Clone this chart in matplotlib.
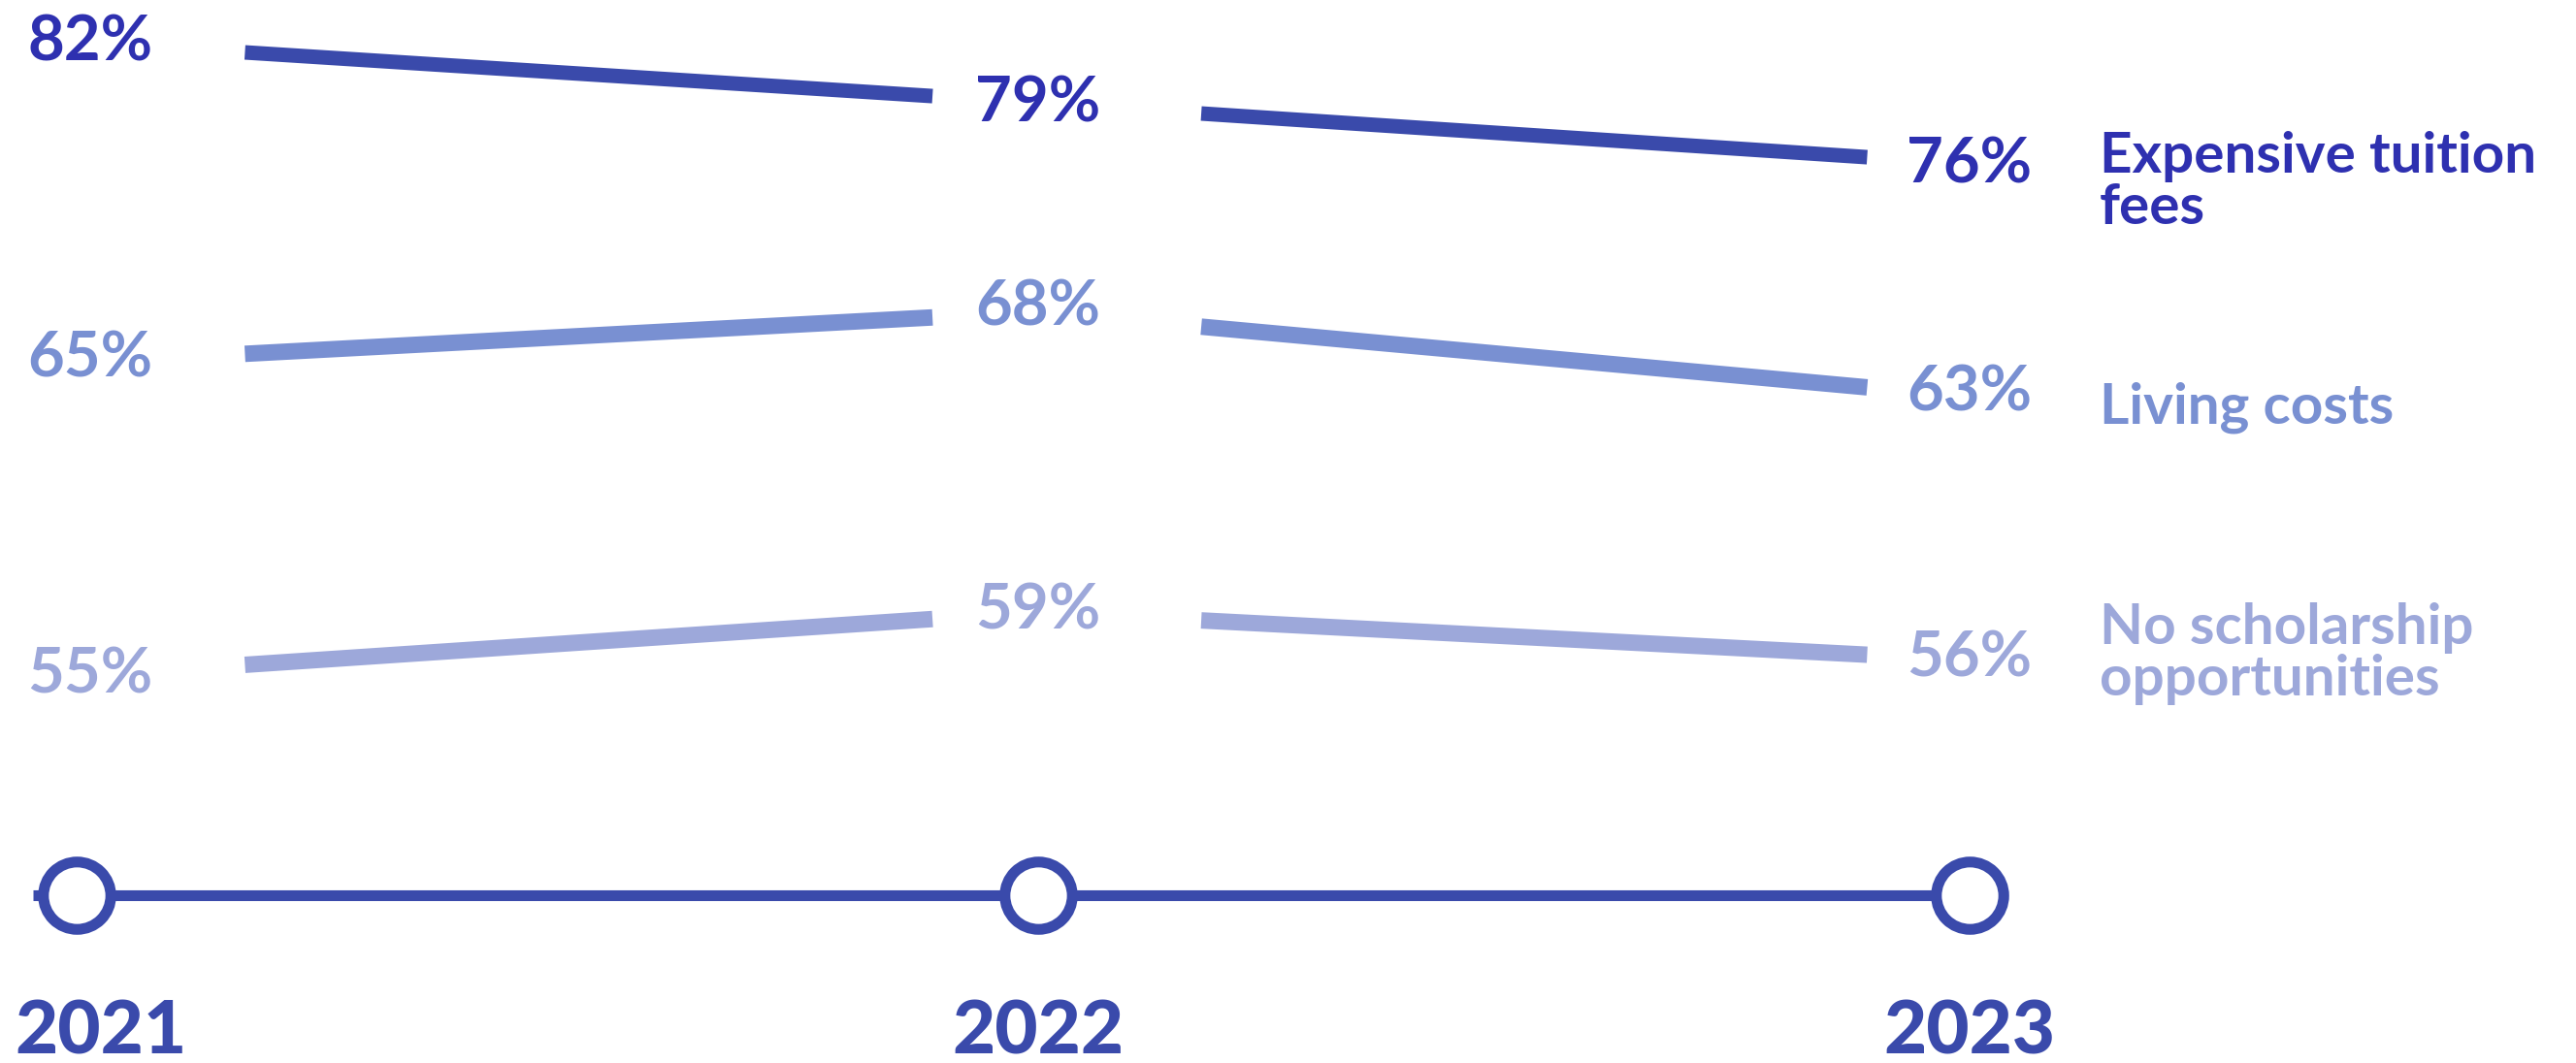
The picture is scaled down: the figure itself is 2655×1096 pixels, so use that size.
import matplotlib
matplotlib.use("Agg")
import matplotlib.pyplot as plt

# ---- data ----
YEARS   = ["2021", "2022", "2023"]
SERIES  = ["Expensive tuition\nfees", "Living costs", "No scholarship\nopportunities"]
TUITION = [82, 79, 76]
LIVING  = [65, 68, 63]
NO_SCHOLARSHIP = [55, 59, 56]

# ---- style ----
W, H, DPI = 2655, 1096, 100
LINE_COLS = ["#3a4aab", "#7990d2", "#9da8da"]
TEXT_COLS = ["#2e30b0", "#7990d2", "#9da8da"]
TL_COL    = "#3a4aab"
LINE_W    = [10.8, 12.2, 12.2]
FONT      = ["Lato", "DejaVu Sans"]

# per-series vertical placement: (px per %, reference value, px from top)
BANDS = [(21.0, 82, 43), (17.5, 65, 374), (16.5, 55, 697)]
PCT_DY = [3, 7, 5]          # label lift above its point (pt)
# legend text anchor (px from top, centre of block)
LEG_Y = [188, 420, 674]
LEG_X = 2164
# column positions (middle column sits a touch right in the original)
COL_X   = [0.0, 1.016, 2.0]
PCT_DX  = [10, 0, 0]
YEAR_DX = [18, 0, 0]

X_PX0, X_PX2 = 79, 2030
SCALE = (X_PX2 - X_PX0) / 2.0
XLIM = (-X_PX0 / SCALE, (W - X_PX0) / SCALE)
T0, T1 = 0.175, 0.89   # visible part of each segment (gaps around labels)

fig = plt.figure(figsize=(W / DPI, H / DPI), dpi=DPI, facecolor="white")


def band_axes(px_per, v0, top0):
    ax = fig.add_axes([0, 0, 1, 1])
    ax.set_xlim(*XLIM)
    ax.set_ylim(v0 - (H - top0) / px_per, v0 + top0 / px_per)
    ax.axis("off")
    ax.patch.set_alpha(0)
    return ax


for k, vals in enumerate([TUITION, LIVING, NO_SCHOLARSHIP]):
    ax = band_axes(*BANDS[k])
    for i in range(len(vals) - 1):
        x0, x1 = COL_X[i], COL_X[i + 1]
        dv = vals[i + 1] - vals[i]
        ax.plot([x0 + T0 * (x1 - x0), x0 + T1 * (x1 - x0)],
                [vals[i] + T0 * dv, vals[i] + T1 * dv],
                color=LINE_COLS[k], lw=LINE_W[k], solid_capstyle="butt")
    for i, v in enumerate(vals):
        ax.annotate(f"{v}%", (COL_X[i], v), xytext=(PCT_DX[i], PCT_DY[k]),
                    textcoords="offset points",
                    ha="center", va="center_baseline", fontsize=47,
                    fontweight="bold", color=TEXT_COLS[k], family=FONT)
    fig.text(LEG_X / W, 1 - LEG_Y[k] / H, SERIES[k], ha="left", va="center",
             fontsize=42, fontweight="bold", color=TEXT_COLS[k], family=FONT,
             linespacing=1.0)

# ---- timeline ----
TL_Y = 923
tl = fig.add_axes([0, 1 - (TL_Y + 100) / H, 1, 200 / H])
tl.set_xlim(*XLIM)
tl.set_ylim(-1, 1)
tl.axis("off")
tl.patch.set_alpha(0)
tl.plot([COL_X[0] - 0.046, COL_X[-1]], [0, 0], color=TL_COL, lw=8,
        solid_capstyle="butt", zorder=1)
tl.plot(COL_X, [0] * len(COL_X), ls="none", marker="o", ms=50, mew=8,
        mec=TL_COL, mfc="white", zorder=2)
for i, yr in enumerate(YEARS):
    tl.annotate(yr, (COL_X[i], 0), xytext=(YEAR_DX[i], -97), textcoords="offset points",
                ha="center", va="center_baseline", fontsize=55,
                fontweight="black", color=TL_COL, family=FONT,
                annotation_clip=False)

fig.savefig("out.png", dpi=DPI, facecolor="white")
